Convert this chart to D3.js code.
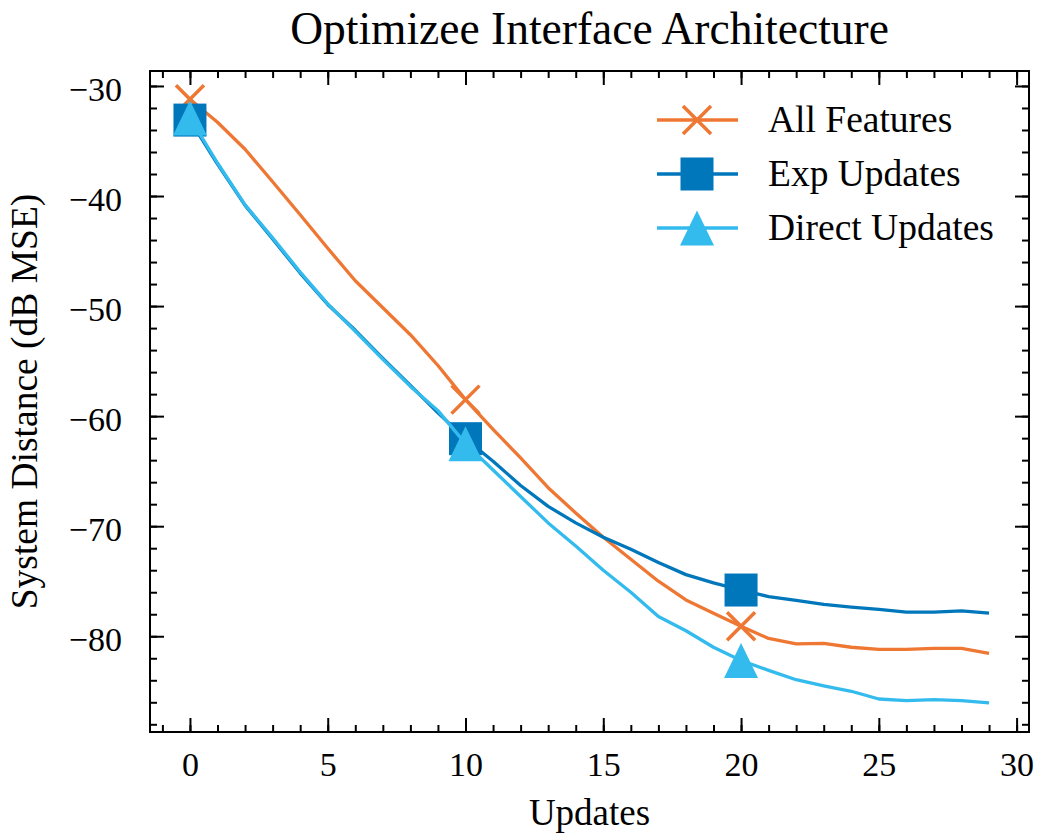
<!DOCTYPE html>
<html>
<head>
<meta charset="utf-8">
<script src="https://cdn.jsdelivr.net/npm/d3@7"></script>
<style>
    body { margin: 0; background: #fff; }
    svg text { font-family: 'Liberation Serif', 'DejaVu Serif', serif; fill: #000; }
</style>
</head>
<body>
<div id="chart"></div>
<script>
// data
const updates = d3.range(0, 30);
const allFeatures = [-31.2, -33.3, -35.75, -38.7, -41.7, -44.75, -47.7, -50.15, -52.6, -55.4,
                     -58.5, -61.2, -63.8, -66.5, -68.8, -71.0, -73.0, -75.0, -76.7, -77.9,
                     -79.1, -80.2, -80.7, -80.65, -81.0, -81.2, -81.2, -81.1, -81.1, -81.55];
const expUpdates = [-33.1, -37.1, -40.85, -43.9, -47.0, -49.85, -52.2, -54.75, -57.2, -59.7,
                    -62.05, -64.1, -66.3, -68.2, -69.7, -71.0, -72.1, -73.3, -74.4, -75.15,
                    -75.8, -76.4, -76.75, -77.1, -77.35, -77.55, -77.8, -77.8, -77.7, -77.9];
const directUpdates = [-32.9, -37.0, -40.8, -43.8, -46.9, -49.8, -52.3, -54.85, -57.3, -59.5,
                       -62.5, -64.9, -67.3, -69.7, -71.8, -74.0, -76.0, -78.2, -79.5, -81.0,
                       -82.2, -83.1, -83.95, -84.5, -85.0, -85.7, -85.85, -85.75, -85.85, -86.05];
const seriesNames = ["All Features", "Exp Updates", "Direct Updates"];
const seriesColors = ["#EE7733", "#0077BB", "#33BBEE"];
const seriesMarkers = ["x", "square", "triangle"];
const xTicks = [0, 5, 10, 15, 20, 25, 30];
const yTicks = [-30, -40, -50, -60, -70, -80];

const width = 1038, height = 834;
const margin = {top: 71, right: 9, bottom: 102, left: 150};

const svg = d3.select("#chart").append("svg")
    .attr("width", width)
    .attr("height", height);

const x = d3.scaleLinear().domain([-1.45, 30.45]).range([margin.left, width - margin.right]);
const y = d3.scaleLinear().domain([-88.7, -28.64]).range([height - margin.bottom, margin.top]);

const series = [allFeatures, expUpdates, directUpdates].map((vals, i) => ({
    name: seriesNames[i],
    color: seriesColors[i],
    marker: seriesMarkers[i],
    values: vals.map((v, j) => ({x: updates[j], y: v}))
}));

const plotLeft = margin.left, plotRight = width - margin.right;
const plotTop = margin.top, plotBottom = height - margin.bottom;

// clip so lines stay inside the frame
svg.append("clipPath").attr("id", "clip")
  .append("rect")
    .attr("x", plotLeft).attr("y", plotTop)
    .attr("width", plotRight - plotLeft)
    .attr("height", plotBottom - plotTop);

const line = d3.line().x(d => x(d.x)).y(d => y(d.y));

function drawMarker(g, kind, color) {
    if (kind === "x") {
        g.append("path")
            .attr("d", "M-14,-14L14,14M-14,14L14,-14")
            .attr("stroke", color).attr("stroke-width", 3.5).attr("fill", "none");
    } else if (kind === "square") {
        g.append("rect")
            .attr("x", -16.5).attr("y", -16.5).attr("width", 33).attr("height", 33)
            .attr("fill", color);
    } else {
        g.append("path")
            .attr("d", "M0,-17.5L17,17.5L-17,17.5Z")
            .attr("fill", color);
    }
}

const plot = svg.append("g").attr("clip-path", "url(#clip)");

series.forEach(s => {
    plot.append("path")
        .datum(s.values)
        .attr("fill", "none")
        .attr("stroke", s.color)
        .attr("stroke-width", 3.3)
        .attr("stroke-linejoin", "round")
        .attr("d", line);
    // markevery=10
    s.values.filter(d => d.x % 10 === 0).forEach(d => {
        const m = plot.append("g").attr("transform", `translate(${x(d.x)},${y(d.y)})`);
        drawMarker(m, s.marker, s.color);
    });
});

// axes, ticks pointing inward on all four sides
const fmt = d3.format("d");

function styleAxis(g) {
    g.select(".domain").remove();
    g.selectAll("line").attr("stroke", "#000").attr("stroke-width", 2);
    g.selectAll("text").style("font-size", "34px");
}

svg.append("g").attr("transform", `translate(0,${plotBottom})`)
    .call(d3.axisBottom(x).tickValues(xTicks).tickFormat(fmt).tickSize(-14).tickPadding(20))
    .call(styleAxis);
svg.append("g").attr("transform", `translate(0,${plotBottom})`)
    .call(d3.axisBottom(x).tickValues(d3.range(-1, 31)).tickFormat("").tickSize(-7))
    .call(styleAxis);
svg.append("g").attr("transform", `translate(0,${plotTop})`)
    .call(d3.axisTop(x).tickValues(xTicks).tickFormat("").tickSize(-14))
    .call(styleAxis);
svg.append("g").attr("transform", `translate(0,${plotTop})`)
    .call(d3.axisTop(x).tickValues(d3.range(-1, 31)).tickFormat("").tickSize(-7))
    .call(styleAxis);

svg.append("g").attr("transform", `translate(${plotLeft},0)`)
    .call(d3.axisLeft(y).tickValues(yTicks).tickFormat(fmt).tickSize(-14).tickPadding(28))
    .call(styleAxis)
    .call(g => g.selectAll("text").attr("dy", "0.42em"));
svg.append("g").attr("transform", `translate(${plotLeft},0)`)
    .call(d3.axisLeft(y).tickValues(d3.range(-88, -28, 2)).tickFormat("").tickSize(-7))
    .call(styleAxis);
svg.append("g").attr("transform", `translate(${plotRight},0)`)
    .call(d3.axisRight(y).tickValues(yTicks).tickFormat("").tickSize(-14))
    .call(styleAxis);
svg.append("g").attr("transform", `translate(${plotRight},0)`)
    .call(d3.axisRight(y).tickValues(d3.range(-88, -28, 2)).tickFormat("").tickSize(-7))
    .call(styleAxis);

svg.append("rect")
    .attr("x", plotLeft).attr("y", plotTop)
    .attr("width", plotRight - plotLeft).attr("height", plotBottom - plotTop)
    .attr("fill", "none").attr("stroke", "#000").attr("stroke-width", 2);

// labels
svg.append("text")
    .attr("x", (plotLeft + plotRight) / 2).attr("y", 44)
    .attr("text-anchor", "middle")
    .style("font-size", "45.5px")
    .text("Optimizee Interface Architecture");

svg.append("text")
    .attr("x", (plotLeft + plotRight) / 2).attr("y", 825)
    .attr("text-anchor", "middle")
    .style("font-size", "37px")
    .text("Updates");

svg.append("text")
    .attr("transform", `translate(37,${(plotTop + plotBottom) / 2}) rotate(-90)`)
    .attr("text-anchor", "middle")
    .style("font-size", "37.5px")
    .text("System Distance (dB MSE)");

// legend, no frame
const legend = svg.append("g");
series.forEach((s, i) => {
    const cy = 120 + i * 54;
    const row = legend.append("g").attr("transform", `translate(0,${cy})`);
    row.append("line")
        .attr("x1", 657).attr("x2", 738).attr("y1", 0).attr("y2", 0)
        .attr("stroke", s.color).attr("stroke-width", 3.3);
    drawMarker(row.append("g").attr("transform", "translate(697,0)"), s.marker, s.color);
    row.append("text")
        .attr("x", 768).attr("y", 12)
        .style("font-size", "37.5px")
        .text(s.name);
});
</script>
</body>
</html>
